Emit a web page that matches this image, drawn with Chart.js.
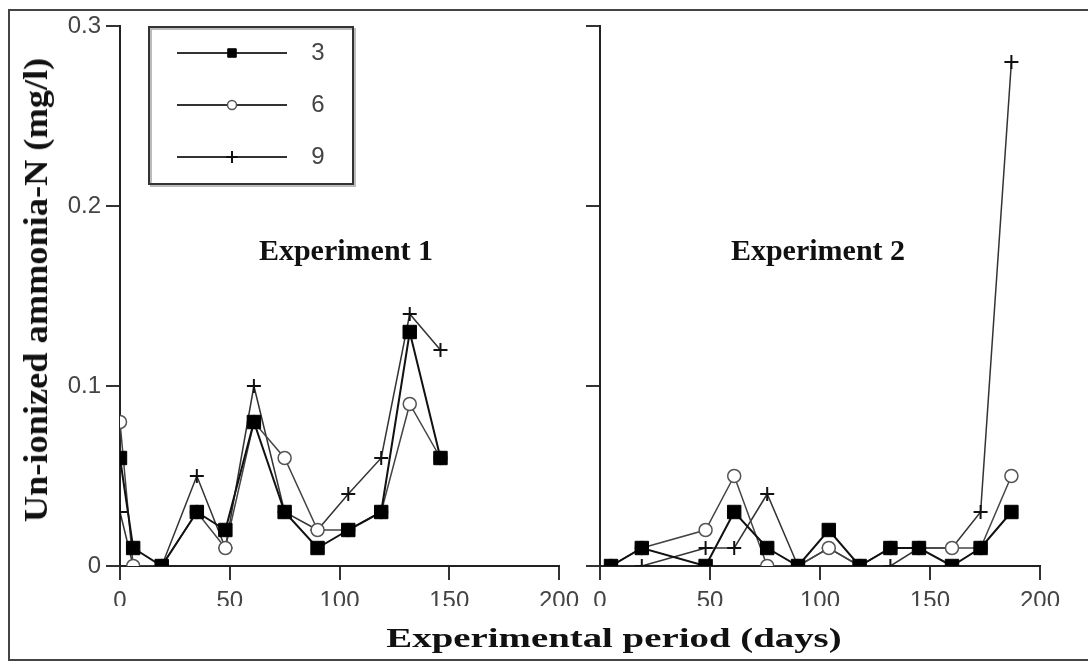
<!DOCTYPE html>
<html lang="en">
<head>
  <meta charset="UTF-8" />
  <title>Un-ionized ammonia-N</title>
  <script src="https://cdn.jsdelivr.net/npm/chart.js"></script>
  <style>
    body { margin: 0; background: #fff; }
    #wrap { position: relative; width: 1088px; height: 661px; overflow: hidden; }
    #frame { position: absolute; left: 8px; top: 9px; width: 1090px; height: 648px; border: 2px solid #444; border-right: none; }
    canvas { position: absolute; top: 0; }
    #left { left: 0; }
    #right { left: 560px; }
    .axt { position: absolute; font-weight: bold; font-family: "Liberation Serif", "DejaVu Serif", serif; color: #111; white-space: nowrap; line-height: 1; }
  </style>
</head>
<body>
  <div id="wrap">
    <div id="frame"></div>
    <canvas id="left" width="620" height="661"></canvas>
    <canvas id="right" width="528" height="661"></canvas>
    <div id="ytitle" class="axt" style="left:36px; top:290px; font-size:34px;">Un-ionized ammonia-N (mg/l)</div>
    <div id="xtitle" class="axt" style="left:614px; top:638px; font-size:28px;">Experimental period (days)</div>
  </div>

  <script>
    // experiment 1
    const days1 = [0, 6, 19, 35, 48, 61, 75, 90, 104, 119, 132, 146];
    const exp1_3 = [0.06, 0.01, 0, 0.03, 0.02, 0.08, 0.03, 0.01, 0.02, 0.03, 0.13, 0.06];
    const exp1_6 = [0.08, 0, 0, 0.03, 0.01, 0.08, 0.06, 0.02, 0.02, 0.03, 0.09, 0.06];
    const exp1_9 = [0.03, 0, 0, 0.05, 0.01, 0.10, 0.03, 0.02, 0.04, 0.06, 0.14, 0.12];

    // experiment 2
    const days2 = [5, 19, 48, 61, 76, 90, 104, 118, 132, 145, 160, 173, 187];
    const exp2_3 = [0, 0.01, 0, 0.03, 0.01, 0, 0.02, 0, 0.01, 0.01, 0, 0.01, 0.03];
    const exp2_6 = [0, 0.01, 0.02, 0.05, 0, 0, 0.01, 0, 0.01, 0.01, 0.01, 0.01, 0.05];
    const exp2_9 = [0, 0, 0.01, 0.01, 0.04, 0, 0.01, 0, 0, 0.01, 0.01, 0.03, 0.28];

    const seriesLabels = ["3", "6", "9"];
    const xTickLabels = ["0", "50", "100", "150", "200"];
    const yTickLabels = ["0", "0.1", "0.2", "0.3"];

    const tickFont = { family: "'Liberation Sans', Arial, sans-serif", size: 24 };

    // panel caption + legend box drawn inside the plot area
    const panelText = {
      id: "panelText",
      afterDatasetsDraw(chart, args, opts) {
        const { ctx, chartArea: a } = chart;
        ctx.save();
        ctx.font = "bold 30px 'Liberation Serif', serif";
        ctx.fillStyle = "#111";
        ctx.textAlign = "center";
        ctx.textBaseline = "middle";
        ctx.fillText(opts.text, a.left + opts.dx, a.top + opts.dy);

        if (opts.legend) {
          const bx = a.left + 29, by = a.top + 1, bw = 204, bh = 157;
          ctx.fillStyle = "#fff";
          ctx.fillRect(bx, by, bw, bh);
          ctx.lineWidth = 2;
          ctx.strokeStyle = "#bbb";
          ctx.strokeRect(bx + 2, by + 2, bw, bh);
          ctx.strokeStyle = "#333";
          ctx.strokeRect(bx, by, bw, bh);
          const small = [6, 4.5, 6];
          chart.data.datasets.forEach((ds, i) => {
            const y = by + 26 + i * 52;
            ctx.strokeStyle = "#333";
            ctx.lineWidth = 2;
            ctx.beginPath();
            ctx.moveTo(bx + 28, y);
            ctx.lineTo(bx + 138, y);
            ctx.stroke();
            ctx.fillStyle = ds.pointBackgroundColor;
            ctx.strokeStyle = ds.pointBorderColor;
            ctx.lineWidth = ds.pointBorderWidth;
            Chart.helpers.drawPoint(ctx, { pointStyle: ds.pointStyle, radius: small[i], borderWidth: ds.pointBorderWidth, rotation: 0 }, bx + 83, y);
            ctx.fillStyle = "#444";
            ctx.font = "24px 'Liberation Sans', Arial, sans-serif";
            ctx.fillText(ds.label, bx + 169, y);
          });
        }
        ctx.restore();
      }
    };

    function pts(days, ys) {
      return days.map((d, i) => ({ x: d, y: ys[i] }));
    }

    function makeChart(id, days, s3, s6, s9, cfg) {
      return new Chart(document.getElementById(id), {
        type: "scatter",
        data: {
          datasets: [
            { label: seriesLabels[0], data: pts(days, s3), showLine: true, borderColor: "#111", borderWidth: 2,
              pointStyle: "rect", pointRadius: 9.5, pointBackgroundColor: "#000", pointBorderColor: "#000", pointBorderWidth: 1 },
            { label: seriesLabels[1], data: pts(days, s6), showLine: true, borderColor: "#444", borderWidth: 1.5,
              pointStyle: "circle", pointRadius: 6.5, pointBackgroundColor: "#fff", pointBorderColor: "#555", pointBorderWidth: 1.5 },
            { label: seriesLabels[2], data: pts(days, s9), showLine: true, borderColor: "#333", borderWidth: 1.5,
              pointStyle: "cross", pointRadius: 7, pointBackgroundColor: "#111", pointBorderColor: "#111", pointBorderWidth: 2 }
          ]
        },
        options: {
          responsive: false,
          animation: false,
          layout: { padding: cfg.padding },
          plugins: {
            legend: { display: false },
            tooltip: { enabled: false },
            panelText: cfg.panel
          },
          scales: {
            x: {
              type: "linear", min: 0, max: 200,
              ticks: { stepSize: 50, font: tickFont, color: "#444", padding: 7, maxRotation: 0,
                       callback: (v, i) => xTickLabels[i] },
              grid: { drawOnChartArea: false, tickLength: 14, color: "#333", lineWidth: 2 },
              border: { color: "#222", width: 2 },
              afterFit: s => { s.height = 40; }
            },
            y: {
              min: 0, max: 0.3,
              ticks: { stepSize: 0.1, font: tickFont, color: "#444", padding: 5,
                       callback: (v, i) => cfg.yLabels ? yTickLabels[i] : "" },
              grid: { drawOnChartArea: false, tickLength: 14, color: "#333", lineWidth: 2 },
              border: { color: "#222", width: 2 },
              afterFit: s => { s.width = cfg.yWidth; }
            }
          }
        },
        plugins: [panelText]
      });
    }

    makeChart("left", days1, exp1_3, exp1_6, exp1_9, {
      padding: { left: 0, right: 61, top: 26, bottom: 55 },
      yWidth: 120, yLabels: true,
      panel: { text: "Experiment 1", dx: 226, dy: 226, legend: true }
    });

    makeChart("right", days2, exp2_3, exp2_6, exp2_9, {
      padding: { left: 0, right: 48, top: 26, bottom: 55 },
      yWidth: 40, yLabels: false,
      panel: { text: "Experiment 2", dx: 218, dy: 226, legend: false }
    });

    // stretch the axis titles to the lengths seen in the figure
    function fit(el, len, rotate) {
      const s = len / el.offsetWidth;
      el.style.transform = "translate(-50%, -50%)" + (rotate ? " rotate(-90deg)" : "") + " scaleX(" + s + ")";
    }
    fit(document.getElementById("ytitle"), 464, true);
    fit(document.getElementById("xtitle"), 455, false);
  </script>
</body>
</html>
